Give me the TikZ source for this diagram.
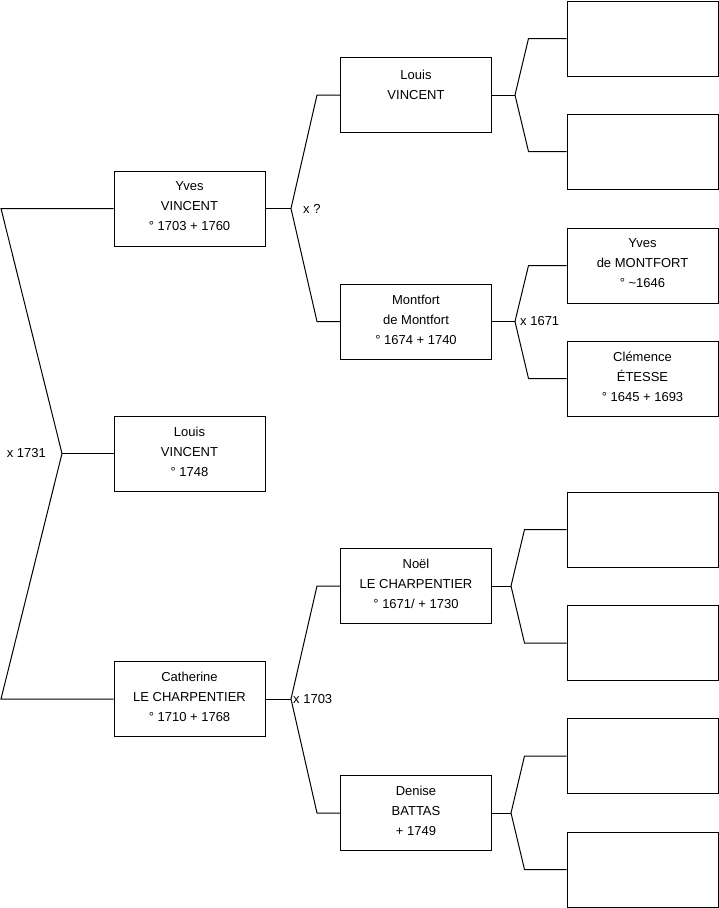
\documentclass[tikz,border=0pt]{standalone}
\usepackage{fontspec}
\setmainfont{Liberation Sans}
\usetikzlibrary{positioning}

\begin{document}
\begin{tikzpicture}[x=1pt, y=-1pt,
    person/.style={draw, rectangle, line width=1pt, minimum width=151pt, minimum height=75pt, inner sep=0pt, align=center, text depth=4pt, font=\fontsize{13}{20}\selectfont},
    link/.style={draw, line width=1pt},
    marr/.style={inner sep=0pt, font=\fontsize{13}{15}\selectfont}]
    \useasboundingbox (0,0) rectangle (719,908);

    % children
    \node[person] (yves) at (189.5,208.5) {Yves\\VINCENT\\° 1703 + 1760};
    \node[person] (louis) at (189.5,453.5) {Louis\\VINCENT\\° 1748};
    \node[person] (cath) at (189.5,699) {Catherine\\LE CHARPENTIER\\° 1710 + 1768};

    % parents
    \node[person, text depth=-2pt] (louisp) at (416,95) {Louis\\VINCENT\\~};
    \node[person] (montfort) at (416,321.5) {Montfort\\de Montfort\\° 1674 + 1740};
    \node[person] (noel) at (416,586) {Noël\\LE CHARPENTIER\\° 1671/ + 1730};
    \node[person] (denise) at (416,813) {Denise\\BATTAS\\+ 1749};

    % grandparents
    \node[person] (u1) at (642.5,38.5) {};
    \node[person] (u2) at (642.5,151.5) {};
    \node[person] (yvesm) at (642.5,265.5) {Yves\\de MONTFORT\\° \textasciitilde1646};
    \node[person] (clem) at (642.5,378.5) {Clémence\\ÉTESSE\\° 1645 + 1693};
    \node[person] (u3) at (642.5,529.5) {};
    \node[person] (u4) at (642.5,643) {};
    \node[person] (u5) at (642.5,756) {};
    \node[person] (u6) at (642.5,869.5) {};

    % junctions
    \coordinate (rim) at (1,0);
    \coordinate (jroot) at (62,453.5);
    \coordinate (jyves) at (291,208.5);
    \coordinate (jcath) at (291,699);
    \coordinate (jlouisp) at (515,95);
    \coordinate (jmont) at (515,321.5);
    \coordinate (jnoel) at (511,586);
    \coordinate (jden) at (511,813);

    \draw[link] (yves.west) -- (yves.west -| rim) -- (jroot) -- (cath.west -| rim) -- (cath.west);
    \draw[link] (jroot) -- (louis.west);
    \node[marr, left=16pt of jroot] (m1731) {x 1731};

    \draw[link] (yves.east) -- (jyves);
    \draw[link] (louisp.west) -- ([xshift=-23pt]louisp.west) -- (jyves) -- ([xshift=-23pt]montfort.west) -- (montfort.west);
    \node[marr, right=12pt of jyves] (mq) {x ?};

    \draw[link] (cath.east) -- (jcath);
    \draw[link] (noel.west) -- ([xshift=-23pt]noel.west) -- (jcath) -- ([xshift=-23pt]denise.west) -- (denise.west);
    \node[marr, right=2pt of jcath] (m1703) {x 1703};

    \draw[link] (louisp.east) -- (jlouisp);
    \draw[link] (u1.west) -- ([xshift=-38pt]u1.west) -- (jlouisp) -- ([xshift=-38pt]u2.west) -- (u2.west);

    \draw[link] (montfort.east) -- (jmont);
    \draw[link] (yvesm.west) -- ([xshift=-38pt]yvesm.west) -- (jmont) -- ([xshift=-38pt]clem.west) -- (clem.west);
    \node[marr, right=5pt of jmont] (m1671) {x 1671};

    \draw[link] (noel.east) -- (jnoel);
    \draw[link] (u3.west) -- ([xshift=-42pt]u3.west) -- (jnoel) -- ([xshift=-42pt]u4.west) -- (u4.west);

    \draw[link] (denise.east) -- (jden);
    \draw[link] (u5.west) -- ([xshift=-42pt]u5.west) -- (jden) -- ([xshift=-42pt]u6.west) -- (u6.west);
\end{tikzpicture}
\end{document}
